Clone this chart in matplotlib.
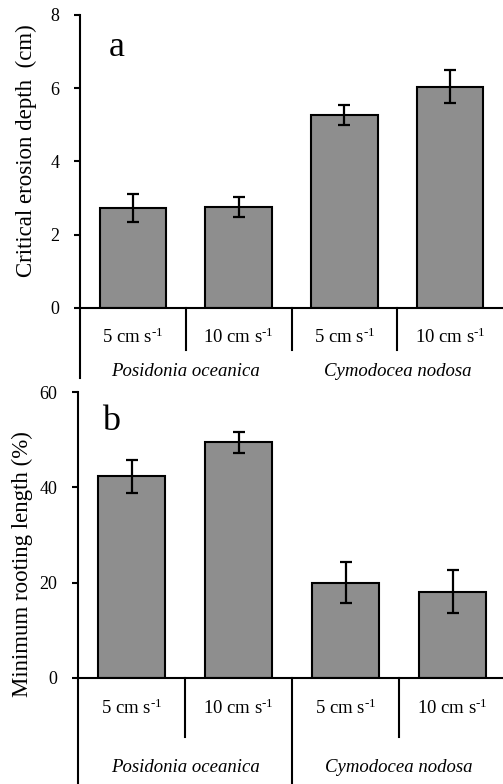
import matplotlib
matplotlib.use("Agg")
import matplotlib.pyplot as plt
from matplotlib.lines import Line2D

plt.rcParams['font.family'] = ['Liberation Serif', 'DejaVu Serif']
plt.rcParams['mathtext.fontset'] = 'custom'
plt.rcParams['mathtext.rm'] = 'Liberation Serif'
plt.rcParams['mathtext.it'] = 'Liberation Serif:italic'

speeds = ["5 cm s$^{\u20101}$", "10 cm s$^{\u20101}$",
          "5 cm s$^{\u20101}$", "10 cm s$^{\u20101}$"]
species = ["Posidonia oceanica", "Cymodocea nodosa"]
erosion = [2.72, 2.76, 5.27, 6.04]
erosion_err = [0.38, 0.27, 0.27, 0.45]
rooting = [42.3, 49.5, 20.0, 18.1]
rooting_err = [3.5, 2.2, 4.4, 4.6]

W, H = 503, 784
fig = plt.figure(figsize=(W / 100, H / 100), dpi=100)

def px(x, y):
    return x / W, 1 - y / H

BAR_COLOR = "#8e8e8e"

def panel(rect_px, values, errs, ymax, yticks, letter, letter_pos,
          ylabel, ylabel_pos, tick_y, sp_y, sep_len, mid_len, axis_bottom):
    l, t, r, b = rect_px
    ax = fig.add_axes([l / W, 1 - b / H, (r - l) / W, (b - t) / H])
    x = list(range(len(values)))
    ax.bar(x, values, width=0.63, color=BAR_COLOR, edgecolor="black",
           linewidth=1.5, zorder=2)
    ax.errorbar(x, values, yerr=errs, fmt="none", ecolor="black",
                elinewidth=1.6, capsize=4, capthick=1.6, zorder=3)
    ax.set_xlim(-0.5, 3.5)
    ax.set_ylim(0, ymax)
    for s in ["top", "right", "left"]:
        ax.spines[s].set_visible(False)
    ax.spines["bottom"].set_linewidth(1.5)
    ax.set_xticks([])
    ax.set_yticks(yticks)
    ax.set_yticklabels([str(v) for v in yticks], fontsize=13)
    ax.tick_params(axis="y", length=4, width=1.5, pad=11)
    hpx = b - t
    ax.add_line(Line2D([0, 0], [1, -(axis_bottom - b) / hpx],
                       transform=ax.transAxes, color="black", lw=1.5,
                       clip_on=False))
    for i, xs in enumerate([0.5, 1.5, 2.5]):
        ln = mid_len if i == 1 else sep_len
        ax.plot([xs, xs], [0, -ln / hpx * ymax], color="black", lw=1.5,
                clip_on=False)
    for xi, lab in zip(x, speeds):
        ax.text(xi, -(tick_y - b) / hpx * ymax, lab, ha="center",
                va="center", fontsize=13.5)
    for xi, lab in zip([0.5, 2.5], species):
        ax.text(xi, -(sp_y - b) / hpx * ymax, lab, ha="center",
                va="center", fontsize=13.5, style="italic")
    fig.text(*px(*letter_pos), letter, fontsize=26, ha="center", va="center")
    fig.text(*px(*ylabel_pos), ylabel, fontsize=16.5, rotation=90,
             ha="center", va="center")
    return ax

panel((80, 15, 503, 308), erosion, erosion_err, 8, [0, 2, 4, 6, 8], "a",
      (117, 48), "Critical erosion depth  (cm)", (26, 151),
      337, 372, 42, 42, 378)
panel((78, 392.3, 506, 677.7), rooting, rooting_err, 60, [0, 20, 40, 60],
      "b", (111, 421), "Minimum rooting length (%)", (22, 564),
      708, 768, 59, 120, 800)

fig.savefig("out.png", dpi=100)
